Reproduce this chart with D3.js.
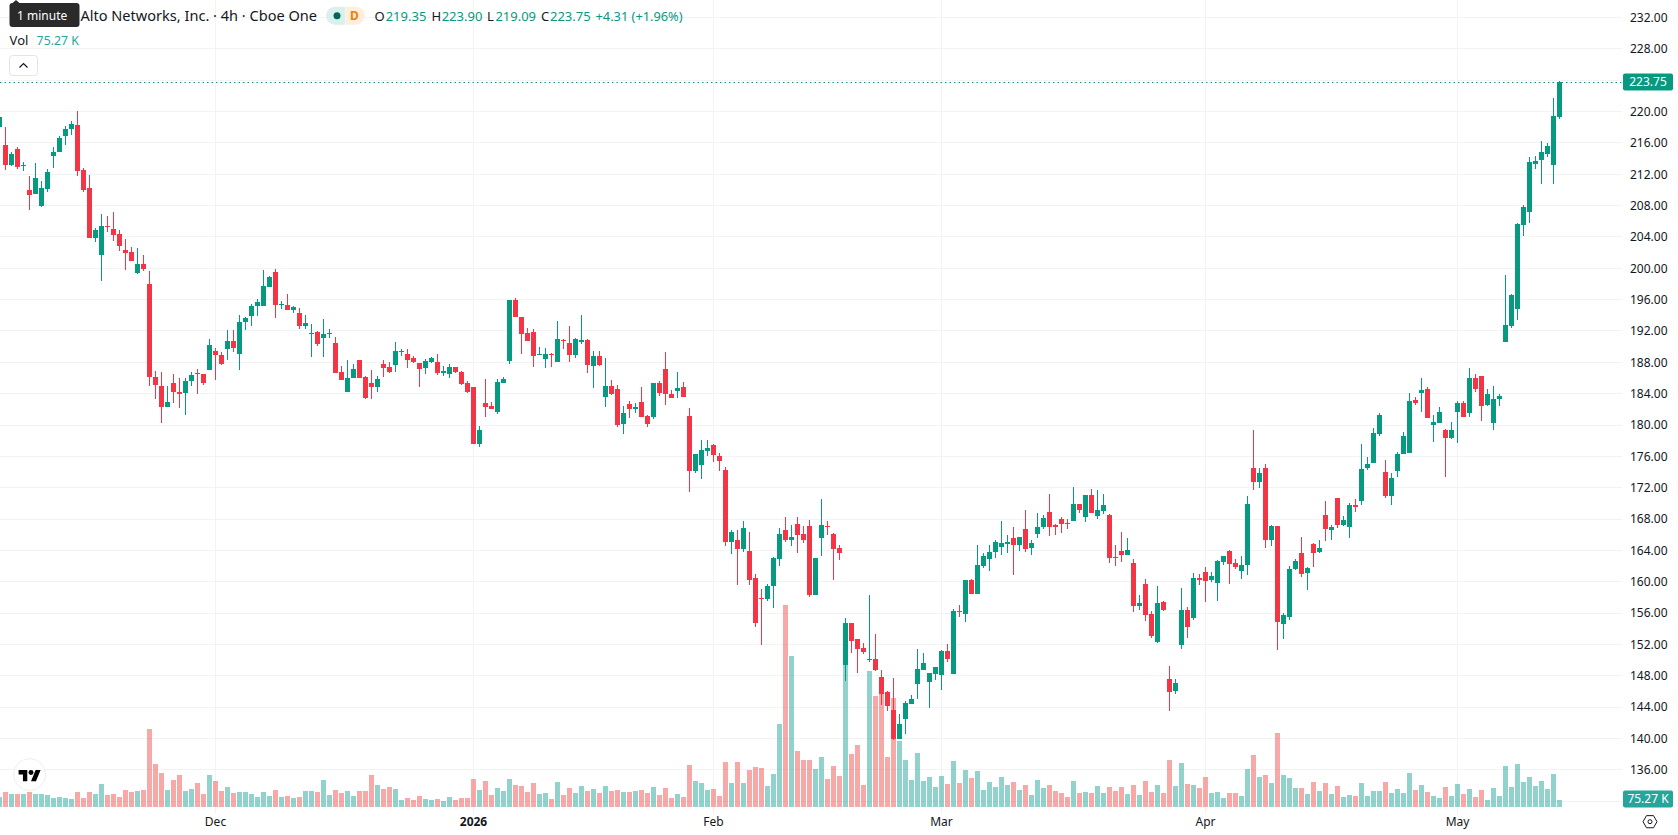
<!DOCTYPE html>
<html lang="en">
<head>
<meta charset="utf-8">
<title>Palo Alto Networks, Inc. 4h</title>
<script src="https://cdn.jsdelivr.net/npm/d3@7/dist/d3.min.js"></script>
<style>
  html, body { margin: 0; padding: 0; background: #fff; overflow: hidden; }
  svg { display: block; font-family: "Noto Sans", sans-serif; }
</style>
</head>
<body>
<svg id="chart" width="1678" height="835"></svg>
<script>
// Four-hour session bars, oldest first.
const opens = [218.04,
  215.71,213.20,215.20,213.08,209.98,209.51,207.94,210.15,214.31,214.86,
  216.90,217.79,218.26,212.52,210.23,203.90,201.74,205.39,205.01,204.37,
  202.33,202.08,199.45,200.55,198.00,186.16,185.01,182.25,185.39,184.25,
  184.03,185.56,186.67,186.54,186.96,189.47,188.96,189.64,190.74,189.00,
  193.08,193.97,195.12,195.12,197.66,199.53,195.37,195.33,194.73,194.31,
  192.57,191.63,191.89,191.04,191.63,190.44,186.74,184.24,186.02,188.27,
  186.11,185.34,184.88,187.76,187.38,187.68,189.33,189.04,188.53,187.89,
  187.30,188.06,188.02,186.66,186.53,187.38,186.74,185.34,184.83,177.61,
  182.79,182.41,181.69,185.39,188.19,195.92,193.75,191.71,191.84,188.91,
  188.44,189.08,188.06,190.86,190.44,188.95,190.57,190.82,187.55,188.78,
  183.60,184.96,184.58,180.16,182.67,182.07,182.92,181.14,181.05,185.34,
  187.13,183.94,184.37,184.83,181.19,174.10,174.86,176.73,177.50,176.09,
  174.31,165.05,165.27,164.16,163.87,160.43,157.88,157.79,159.45,162.89,
  166.54,165.31,167.43,166.03,167.05,158.30,165.56,167.05,166.03,164.25,
  149.39,154.69,152.66,151.51,149.98,150.11,147.81,145.90,143.61,139.96,
  142.51,144.42,146.97,148.75,147.22,148.24,148.11,151.13,148.24,156.22,
  155.91,160.20,158.46,162.02,162.91,163.81,164.44,164.82,165.55,164.70,
  166.69,164.31,166.10,166.99,168.86,167.20,167.97,167.46,167.75,169.88,
  168.26,171.02,168.39,169.03,168.48,163.13,163.89,163.42,162.36,156.93,
  159.69,155.87,152.34,157.39,147.59,146.06,151.96,156.39,155.40,160.45,
  161.22,160.24,159.86,162.53,163.89,162.36,161.39,162.15,174.57,172.78,
  174.57,165.39,167.05,154.63,155.46,161.57,163.61,161.06,164.88,163.74,
  168.58,166.64,170.72,167.28,166.94,169.83,170.25,174.45,175.09,178.91,
  174.03,170.89,174.07,176.24,176.49,183.20,184.14,184.60,180.06,180.31,
  179.38,178.28,181.72,182.82,181.59,186.00,186.26,182.57,180.31,183.33,
  190.53,192.66,194.74,205.56,207.22,213.29,213.84,214.57,213.21,219.35];

const highs = [219.60,
  217.96,214.82,215.41,213.54,211.76,213.37,211.12,212.65,215.45,216.85,
  218.13,218.77,220.04,212.78,211.89,205.13,206.92,206.66,207.17,204.88,
  203.73,202.72,202.59,201.70,199.66,186.92,186.79,185.01,186.54,186.03,
  186.03,186.79,187.18,186.54,190.99,189.85,189.34,192.14,192.14,194.05,
  193.80,195.45,196.09,199.79,199.02,199.91,195.84,196.73,195.20,194.94,
  194.05,192.91,192.02,193.54,192.27,191.20,187.51,188.27,187.76,188.27,
  186.24,187.00,186.24,188.27,188.02,190.57,189.67,189.67,188.78,187.89,
  188.40,188.65,189.04,187.51,187.76,187.38,186.87,185.60,184.83,179.87,
  185.85,182.92,185.85,186.11,195.92,196.17,193.75,192.35,192.22,189.93,
  189.80,189.16,193.24,190.95,192.60,191.07,194.00,190.95,189.42,189.42,
  188.53,185.73,185.09,182.41,183.05,182.79,184.83,181.27,185.34,185.60,
  189.29,184.45,186.74,185.47,182.21,176.35,178.13,178.13,177.62,176.48,
  174.69,166.54,166.54,167.69,166.29,160.93,159.03,159.66,163.10,166.80,
  168.32,167.30,168.32,167.05,167.94,162.97,170.62,167.81,166.16,164.63,
  155.33,154.69,152.66,152.15,158.26,153.29,148.71,146.03,147.69,143.10,
  144.76,145.52,151.38,150.87,148.33,149.09,151.25,152.02,156.48,156.99,
  160.20,160.32,164.66,163.63,164.66,165.29,167.71,165.93,166.95,165.67,
  169.11,165.29,168.73,168.48,171.15,167.33,168.22,167.97,172.04,169.88,
  171.02,171.79,171.66,171.15,168.60,164.66,166.31,165.55,162.87,158.29,
  160.32,156.25,159.43,157.52,149.24,147.59,159.18,156.76,161.09,160.96,
  161.85,161.22,162.74,163.25,164.02,162.87,163.25,170.90,179.41,174.57,
  175.07,167.30,167.05,155.99,161.95,162.85,165.65,161.83,165.00,165.39,
  170.36,167.28,170.72,168.43,170.08,170.59,177.60,175.94,179.64,181.55,
  175.56,173.90,176.58,179.13,184.09,183.58,186.00,184.86,181.29,182.31,
  179.51,180.40,183.07,183.07,187.28,186.51,186.26,184.60,184.98,183.97,
  199.15,196.73,205.77,208.07,214.18,214.31,216.22,215.97,221.70,223.90];

const lows = [217.90,
  212.52,213.08,212.69,212.44,207.47,209.51,207.85,209.76,212.78,214.86,
  215.75,217.02,211.80,209.76,203.90,203.40,198.43,204.67,203.52,202.25,
  199.83,200.97,199.32,199.70,184.92,183.27,180.21,182.25,182.76,182.12,
  181.23,184.92,183.91,185.05,186.96,185.69,187.60,188.24,189.26,186.96,
  192.06,192.57,193.97,195.12,197.66,193.71,194.86,194.61,194.35,192.31,
  192.19,188.62,190.02,188.62,191.04,186.66,185.77,184.24,186.02,186.02,
  183.35,183.35,184.24,186.15,186.66,186.79,188.83,187.30,187.93,184.88,
  186.53,187.93,186.40,186.28,186.02,186.66,185.13,184.11,177.61,177.23,
  181.05,182.03,181.44,185.39,187.81,193.79,189.08,190.74,187.42,188.91,
  187.30,187.42,188.06,189.72,188.06,188.57,190.31,186.66,184.75,187.55,
  182.33,183.81,179.78,178.89,180.93,181.56,181.05,179.78,180.80,183.73,
  182.58,183.47,183.47,183.60,171.42,173.84,173.08,176.09,175.25,174.10,
  164.54,163.53,159.58,163.78,159.58,154.23,151.93,157.54,156.65,162.00,
  165.05,164.54,163.65,164.93,158.05,158.30,163.27,165.95,160.21,162.76,
  147.35,150.92,148.37,150.79,149.77,148.62,144.29,143.53,139.83,139.96,
  140.60,144.42,145.06,148.75,143.91,147.48,146.20,149.77,148.24,155.50,
  154.89,158.46,158.46,161.77,161.38,163.04,163.42,163.68,160.88,163.93,
  163.81,163.42,165.59,166.74,165.84,165.97,166.23,166.74,167.75,168.77,
  167.63,168.77,168.01,168.65,162.40,162.02,162.53,163.42,156.16,156.42,
  155.02,152.85,152.21,156.29,143.55,145.72,151.45,152.85,155.14,159.60,
  157.44,159.98,157.56,162.15,159.73,161.64,160.37,160.88,171.76,172.02,
  164.37,164.50,151.32,152.72,155.08,161.44,160.55,158.90,161.83,163.61,
  165.15,165.37,166.81,167.07,165.54,168.93,169.74,174.20,175.09,178.66,
  170.63,169.74,173.31,176.24,176.49,182.61,181.72,180.95,177.89,180.31,
  173.31,178.15,177.64,181.08,181.08,184.26,180.57,182.44,179.30,182.48,
  190.53,192.44,193.42,204.16,205.78,212.70,210.79,214.18,210.79,219.09];

const closes = [219.24,
  213.20,214.56,212.91,213.16,209.34,211.50,210.23,212.27,214.82,216.60,
  217.75,218.38,212.44,210.02,203.90,204.88,205.39,205.26,204.29,202.89,
  201.99,200.97,200.55,199.96,186.07,185.05,182.25,182.97,184.16,183.91,
  185.65,186.41,186.45,185.31,190.23,188.87,187.73,190.74,189.77,193.16,
  193.67,195.20,195.71,197.75,198.89,195.37,195.50,194.73,195.07,192.69,
  193.03,191.76,190.28,191.63,191.76,186.66,185.77,185.98,187.13,186.02,
  183.47,184.88,185.85,187.30,186.79,189.42,189.46,188.31,188.06,187.17,
  188.15,188.53,186.66,186.87,187.38,186.79,185.26,184.24,177.61,179.36,
  182.29,182.07,185.47,185.85,195.92,193.79,191.63,190.74,188.83,189.04,
  189.04,188.95,190.95,190.74,188.95,190.95,190.82,187.68,188.78,187.68,
  184.96,183.94,180.04,181.52,182.07,182.29,181.05,180.16,185.34,184.11,
  183.98,183.47,184.71,183.60,174.10,176.35,176.86,177.11,176.14,175.37,
  165.05,166.41,164.16,166.92,160.21,154.74,157.75,159.41,162.97,166.03,
  165.31,165.65,165.95,165.31,158.30,162.97,167.18,166.97,164.16,163.65,
  154.69,152.44,151.43,151.00,150.11,148.75,145.69,144.16,139.92,141.83,
  144.50,145.01,148.83,149.60,148.33,149.09,151.13,150.15,156.22,156.10,
  160.20,158.46,162.11,163.25,163.76,165.04,164.91,165.04,164.70,165.67,
  164.19,164.91,166.95,168.09,166.99,166.99,167.37,167.37,169.88,169.15,
  171.02,168.77,169.11,169.75,163.04,163.04,163.42,164.02,156.93,157.27,
  155.78,153.11,157.27,156.42,145.97,147.08,156.39,154.25,160.45,160.24,
  160.11,160.71,162.62,163.25,162.28,161.89,162.11,169.88,172.78,173.93,
  165.39,167.05,154.82,155.74,161.57,162.59,160.94,161.70,163.61,164.25,
  166.67,167.02,167.20,167.92,169.83,169.57,174.41,175.05,179.00,181.29,
  170.89,173.27,176.32,178.62,183.07,182.86,184.48,180.95,180.40,181.67,
  178.28,179.38,182.82,181.08,186.00,184.65,182.48,183.97,183.33,183.71,
  192.78,196.60,205.65,207.81,213.55,213.67,214.82,215.58,219.41,223.75];

// Traded volume per bar, in thousands of shares.
const volumes = [106,
  160,138,138,138,160,138,138,127,95,106,
  95,84,160,95,160,138,248,127,138,106,
  182,160,171,182,848,466,368,182,291,346,
  171,193,258,138,346,280,171,215,149,160,
  160,138,106,160,116,182,106,116,95,106,
  171,171,160,291,127,182,149,171,116,171,
  171,346,237,193,215,193,73,95,73,116,
  84,73,84,62,106,73,95,95,302,182,
  280,127,204,171,302,237,226,160,258,138,
  149,84,269,127,204,149,226,171,193,149,
  226,171,182,160,160,171,182,149,215,127,
  204,95,138,106,455,280,258,182,193,116,
  488,258,488,258,400,433,422,226,357,903,
  2203,1646,608,510,510,411,542,302,444,335,
  1602,575,673,237,1482,1209,1274,542,1187,717,
  510,291,586,280,324,215,335,248,499,258,
  400,313,389,182,269,215,324,237,269,182,
  237,127,291,204,237,171,149,106,280,149,
  160,149,226,149,215,171,215,138,237,127,
  280,160,237,149,510,226,477,248,237,204,
  324,149,160,95,149,149,116,411,564,324,
  346,258,804,346,313,204,204,138,269,171,
  258,138,226,106,127,116,258,116,171,171,
  269,149,193,149,368,182,237,160,116,95,
  215,116,248,138,193,106,182,73,204,116,
  444,215,466,269,324,226,280,193,357,75.27];

// Price axis labels and the month labels under the chart.
const priceTicks = [232,228,224,220,216,212,208,204,200,196,192,188,184,180,176,172,168,164,160,156,152,148,144,140,136];
const gridPrices = [...priceTicks, 132];
const monthLabels = ["Dec", "2026", "Feb", "Mar", "Apr", "May"];
const monthBars = [36, 79, 119, 157, 201, 243];

const lastPrice = closes[closes.length - 1];
const lastVolume = volumes[volumes.length - 1];

const UP = "#089981", DOWN = "#f23645";
const VOL_UP = "#26a69a", VOL_DOWN = "#ef5350";
const GRID = "#f2f3f4", INK = "#131722";

const paneRight = 1622, paneBottom = 814;

const svg = d3.select("#chart");
const bars = d3.range(opens.length);

const x = d3.scaleLinear().domain([0, bars.length - 1]).range([-0.5, 1559.5]);
const y = d3.scaleLinear().domain([220, 140]).range([111.5, 738.5]);
const yVol = d3.scaleLinear().domain([0, 2203]).range([807, 605]);

// Grid
const grid = svg.append("g").attr("shape-rendering", "crispEdges");
grid.selectAll("line.h").data(gridPrices).join("line")
  .attr("class", "h")
  .attr("x1", 0).attr("x2", paneRight)
  .attr("y1", d => Math.floor(y(d)) + 0.5).attr("y2", d => Math.floor(y(d)) + 0.5)
  .attr("stroke", GRID);
grid.selectAll("line.v").data(monthBars).join("line")
  .attr("class", "v")
  .attr("y1", 0).attr("y2", paneBottom)
  .attr("x1", d => x(d)).attr("x2", d => x(d))
  .attr("stroke", GRID);

// Volume columns sit behind the candles
svg.append("g").attr("shape-rendering", "crispEdges")
  .selectAll("rect").data(bars).join("rect")
  .attr("x", i => x(i) - 2.5)
  .attr("width", 5)
  .attr("y", i => Math.round(yVol(volumes[i])))
  .attr("height", i => yVol(0) - Math.round(yVol(volumes[i])))
  .attr("fill", i => closes[i] >= opens[i] ? VOL_UP : VOL_DOWN)
  .attr("fill-opacity", 0.5);

// Candles: one wick and one body per bar
const candle = svg.append("g").attr("shape-rendering", "crispEdges")
  .selectAll("g").data(bars).join("g")
  .attr("fill", i => closes[i] >= opens[i] ? UP : DOWN);
candle.append("rect")
  .attr("x", i => x(i) - 0.5).attr("width", 1)
  .attr("y", i => Math.round(y(highs[i])))
  .attr("height", i => Math.max(1, Math.round(y(lows[i])) - Math.round(y(highs[i]))));
candle.append("rect")
  .attr("x", i => x(i) - 2.5).attr("width", 5)
  .attr("y", i => Math.round(y(Math.max(opens[i], closes[i]))))
  .attr("height", i => Math.max(1, Math.round(y(Math.min(opens[i], closes[i]))) - Math.round(y(Math.max(opens[i], closes[i])))));

// Dotted line at the last traded price
svg.append("line")
  .attr("x1", 0).attr("x2", paneRight)
  .attr("y1", Math.floor(y(lastPrice)) + 0.5).attr("y2", Math.floor(y(lastPrice)) + 0.5)
  .attr("stroke", UP).attr("stroke-dasharray", "1.5 3");

// Price axis
const priceAxis = svg.append("g")
  .attr("transform", `translate(${paneRight},0)`)
  .call(d3.axisRight(y).tickValues(priceTicks).tickFormat(d3.format(".2f")).tickSize(0).tickPadding(8).offset(0.5));
priceAxis.select(".domain").remove();
priceAxis.selectAll("text").attr("font-size", 12).attr("font-family", "'Noto Sans', sans-serif").attr("fill", INK);

// Time axis
const timeAxis = svg.append("g")
  .attr("transform", "translate(0,814)")
  .call(d3.axisBottom(x).tickValues(monthBars)
    .tickFormat(d => monthLabels[monthBars.indexOf(d)]).tickSize(0).tickPadding(3).offset(0));
timeAxis.select(".domain").remove();
timeAxis.selectAll("text").attr("font-size", 12).attr("font-family", "'Noto Sans', sans-serif")
  .attr("fill", INK)
  .attr("font-weight", d => d === monthBars[1] ? 700 : 400);

// Value tags on the price axis
function tag(yMid, text, fill) {
  const g = svg.append("g");
  g.append("rect").attr("x", 1623).attr("y", yMid - 8.5).attr("width", 50).attr("height", 17)
    .attr("rx", 2).attr("fill", fill);
  g.append("text").attr("x", 1648).attr("y", yMid).attr("dy", "0.35em")
    .attr("text-anchor", "middle").attr("font-size", 12).attr("fill", "#fff").text(text);
}
tag(y(lastPrice), lastPrice.toFixed(2), UP);
tag(yVol(0) - 8, `${lastVolume.toFixed(2)} K`, VOL_UP);

// Settings icon under the price axis
const hex = d3.range(6).map(k => [1650 + 7 * Math.cos(k * Math.PI / 3), 821.7 + 7 * Math.sin(k * Math.PI / 3)]);
svg.append("path").attr("d", d3.line().curve(d3.curveLinearClosed)(hex))
  .attr("fill", "none").attr("stroke", INK).attr("stroke-width", 1);
svg.append("circle").attr("cx", 1650).attr("cy", 821.7).attr("r", 2)
  .attr("fill", "none").attr("stroke", INK).attr("stroke-width", 1);

// Watermark logo, bottom left
const logo = svg.append("g");
logo.append("circle").attr("cx", 29.6).attr("cy", 774.6).attr("r", 16)
  .attr("fill", "#fff").attr("stroke", "#eceef1").attr("stroke-width", 1);
const mark = logo.append("g").attr("transform", "translate(18.6,767.6) scale(0.62)").attr("fill", "#000");
mark.append("path").attr("d", "M14 22H7V11H0V4h14v18zM28 22h-8l7.5-18h8L28 22z");
mark.append("circle").attr("cx", 20).attr("cy", 8).attr("r", 4);

// Legend row: symbol, market status and OHLC
svg.append("text").attr("x", 317).attr("y", 21).attr("text-anchor", "end")
  .attr("font-size", 14.55).attr("fill", INK)
  .text("Palo Alto Networks, Inc. · 4h · Cboe One");

svg.append("path").attr("d", "M335 6.7h10v18h-10a9 9 0 0 1 0-18z").attr("fill", "#daf0ec");
svg.append("path").attr("d", "M345.5 6.7h10.5a9 9 0 0 1 0 18h-10.5z").attr("fill", "#fdeedd");
svg.append("circle").attr("cx", 337).attr("cy", 15.8).attr("r", 3.5).attr("fill", "#056656");
svg.append("text").attr("x", 354.5).attr("y", 20.3).attr("text-anchor", "middle")
  .attr("font-size", 12).attr("font-weight", 700).attr("fill", "#f57c00").text("D");

const ohlcKeys = ["O", "H", "L", "C"];
const ohlcValues = [opens, highs, lows, closes].map(s => s[s.length - 1]);
const ohlcKeyX = [374.6, 431.6, 487, 541];
const ohlcValueX = [385.7, 441.7, 495.4, 550];
ohlcKeys.forEach((k, i) => {
  svg.append("text").attr("x", ohlcKeyX[i]).attr("y", 21).attr("font-size", 13).attr("fill", INK).text(k);
  svg.append("text").attr("x", ohlcValueX[i]).attr("y", 21).attr("font-size", 13).attr("fill", UP)
    .text(ohlcValues[i].toFixed(2));
});
svg.append("text").attr("x", 595.5).attr("y", 21).attr("font-size", 12.8).attr("fill", UP).text("+4.31 (+1.96%)");

svg.append("text").attr("x", 9.6).attr("y", 45).attr("font-size", 13).attr("fill", INK).text("Vol");
svg.append("text").attr("x", 36.6).attr("y", 45).attr("font-size", 12.3).attr("fill", VOL_UP)
  .text(`${lastVolume.toFixed(2)} K`);

// Collapse button
svg.append("rect").attr("x", 9.5).attr("y", 55.5).attr("width", 28).attr("height", 20).attr("rx", 3)
  .attr("fill", "#fff").attr("stroke", "#e0e3eb");
svg.append("path").attr("d", "M19.5 67.5l4-4 4 4").attr("fill", "none").attr("stroke", INK).attr("stroke-width", 1.2);

// Hover hint over the start of the legend
svg.append("path").attr("d", "M12 3.5l4-3.5 4 3.5z").attr("fill", "#2a2a2a");
svg.append("rect").attr("x", 9.5).attr("y", 3).attr("width", 70).attr("height", 24).attr("rx", 3).attr("fill", "#2a2a2a");
svg.append("text").attr("x", 17).attr("y", 19.5).attr("font-size", 12).attr("fill", "#fff").text("1 minute");
</script>
</body>
</html>
